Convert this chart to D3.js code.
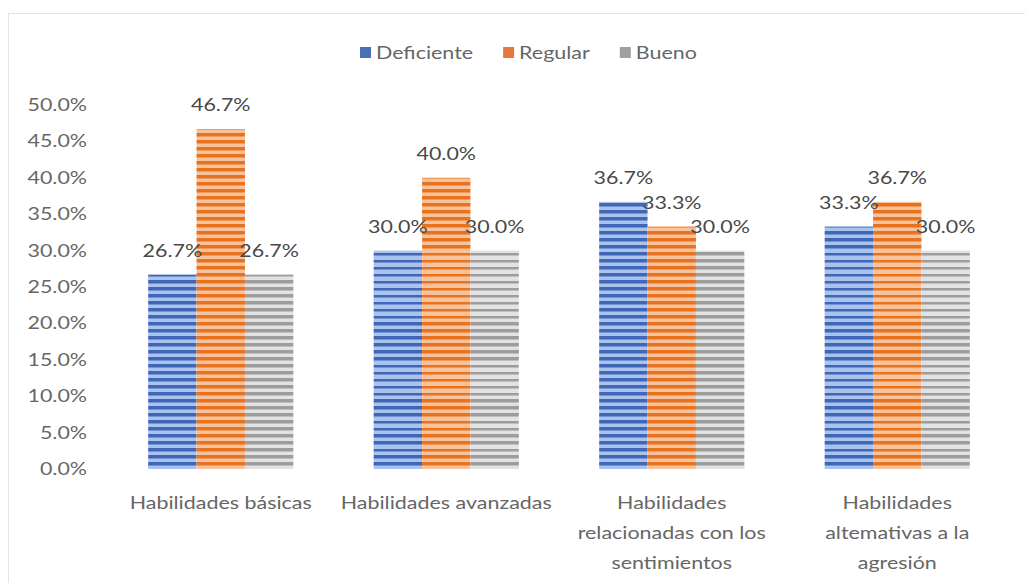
<!DOCTYPE html>
<html>
<head>
<meta charset="utf-8">
<script src="https://cdn.jsdelivr.net/npm/d3@7"></script>
<style>
  body { margin: 0; background: #fff; }
  text { font-family: Lato, "Open Sans", sans-serif; }
</style>
</head>
<body>
<div id="chart"></div>
<script>
// data
var categories = [
  ["Habilidades básicas"],
  ["Habilidades avanzadas"],
  ["Habilidades", "relacionadas con los", "sentimientos"],
  ["Habilidades", "altemativas a la", "agresión"]
];
var seriesNames = ["Deficiente", "Regular", "Bueno"];
var deficiente = [26.7, 30.0, 36.7, 33.3];
var regular = [46.7, 40.0, 33.3, 36.7];
var bueno = [26.7, 30.0, 30.0, 30.0];
var yTicks = [0, 5, 10, 15, 20, 25, 30, 35, 40, 45, 50];

var values = [deficiente, regular, bueno];
var dark = ["#3f67b5", "#e8731f", "#9c9c9c"],
    light = ["#a9c2ee", "#f8c39c", "#e2e2e2"],
    legendCol = ["#4a6fb5", "#e0793a", "#a0a0a0"];

var width = 1025, height = 583;
var margin = {top: 105, left: 108, right: 15};
var fs = 16.5, sx = 1.3;   // the picture's text is stretched sideways

var svg = d3.select("#chart").append("svg")
    .attr("width", width)
    .attr("height", height);

// stretched text helper
function label(parent, x, y, str, anchor, color) {
  return parent.append("text")
      .attr("transform", "translate(" + x + "," + y + ") scale(" + sx + ",1)")
      .attr("text-anchor", anchor)
      .attr("font-size", fs)
      .attr("fill", color)
      .text(str);
}

// chart border (faint)
svg.append("rect")
    .attr("x", 8.5).attr("y", 13.5)
    .attr("width", width).attr("height", height)
    .attr("fill", "none")
    .attr("stroke", "#e4e4e4");

// stripe patterns
var defs = svg.append("defs");
seriesNames.forEach(function(s, i) {
  var p = defs.append("pattern")
      .attr("id", "stripe" + i)
      .attr("patternUnits", "userSpaceOnUse")
      .attr("width", 10).attr("height", 7)
      .attr("y", 469);
  p.append("rect").attr("width", 10).attr("height", 7).attr("fill", light[i]);
  p.append("rect").attr("y", 0).attr("width", 10).attr("height", 3.5).attr("fill", dark[i]);
});

var x0 = d3.scaleBand()
    .domain(d3.range(categories.length))
    .range([margin.left, width - margin.right]);

var x1 = d3.scaleBand()
    .domain(d3.range(seriesNames.length))
    .range([0, x0.bandwidth()])
    .paddingOuter(0.83)
    .paddingInner(0);

var y = d3.scaleLinear()
    .domain([0, 50])
    .range([469, margin.top]);

// y axis labels
var yAxis = svg.append("g");
yTicks.forEach(function(t) {
  label(yAxis, 87, y(t) + 6, t.toFixed(1) + "%", "end", "#666");
});

// bars
var groups = svg.selectAll(".group")
    .data(categories)
    .enter().append("g")
    .attr("class", "group")
    .attr("transform", function(d, i) { return "translate(" + x0(i) + ",0)"; });

groups.each(function(c, ci) {
  var g = d3.select(this);
  values.forEach(function(vals, si) {
    g.append("rect")
        .attr("x", x1(si))
        .attr("y", y(vals[ci]))
        .attr("width", x1.bandwidth())
        .attr("height", y(0) - y(vals[ci]))
        .attr("fill", "url(#stripe" + si + ")");
  });
  values.forEach(function(vals, si) {
    label(g, x1(si) + x1.bandwidth() / 2, y(vals[ci]) - 18,
          vals[ci].toFixed(1) + "%", "middle", "#484848");
  });
  // category label
  c.forEach(function(line, li) {
    label(g, x0.bandwidth() / 2, 509 + li * 30, line, "middle", "#666");
  });
});

// legend
var legend = svg.append("g").attr("transform", "translate(360,53)");
var lx = 0;
seriesNames.forEach(function(s, i) {
  legend.append("rect")
      .attr("x", lx).attr("y", -6)
      .attr("width", 11).attr("height", 11)
      .attr("fill", legendCol[i]);
  var t = label(legend, lx + 16, 6, s, "start", "#666");
  lx += 16 + t.node().getComputedTextLength() * sx + 30;
});
</script>
</body>
</html>
